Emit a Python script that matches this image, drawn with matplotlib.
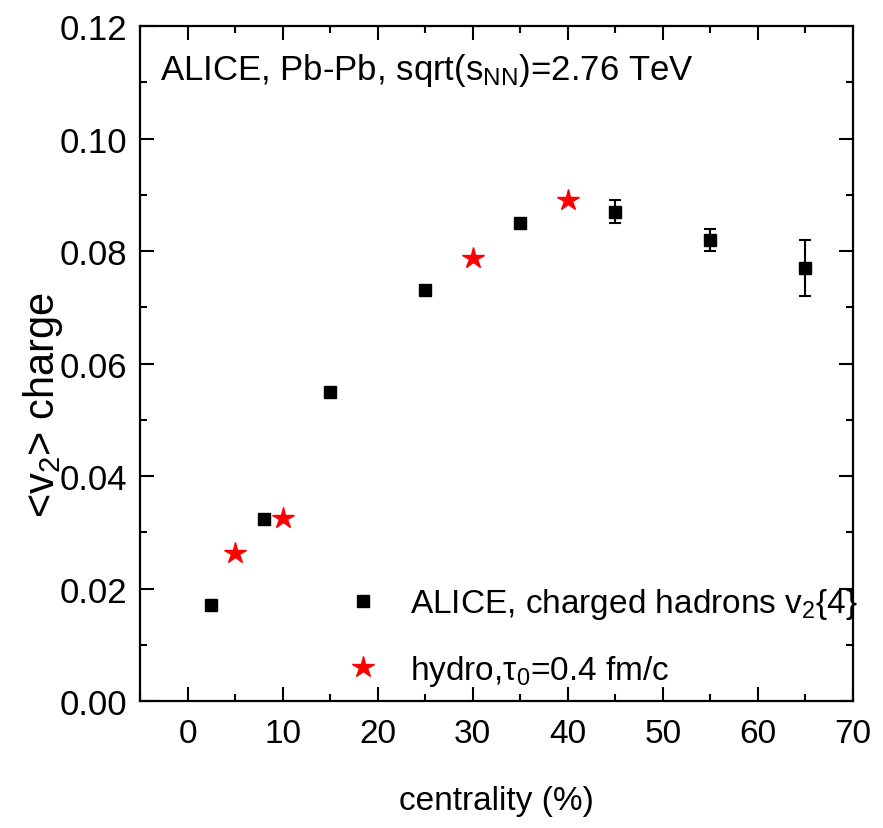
# v2 de hadrones cargados contra centralidad: ALICE e hidro
import numpy as np
import matplotlib.pyplot as plt
from matplotlib.lines import Line2D

plt.rcParams['font.family'] = ['Liberation Sans', 'DejaVu Sans']
plt.rcParams['mathtext.fontset'] = 'custom'
plt.rcParams['mathtext.rm'] = 'Liberation Sans'
plt.rcParams['mathtext.it'] = 'Liberation Sans:italic'

# datos ALICE v2{4}
Centralidad_alice = [2.5, 8.0, 15, 25, 35, 45, 55, 65]
V2_alice = [0.017, 0.0324, 0.055, 0.073, 0.085, 0.087, 0.082, 0.077]
Error_alice = [0.0004, 0.0004, 0.0004, 0.0004, 0.0005, 0.002, 0.002, 0.005]

# datos hidro
Centralidad_hidro = [5, 10, 30, 40]
V2_hidro = [0.0264, 0.0325, 0.0787, 0.0891]

Etiqueta_alice = r'ALICE, charged hadrons v$_2${4}'
Etiqueta_hidro = r'hydro,τ$_0$=0.4 fm/c'

fig = plt.figure(figsize=(8.83, 8.29), dpi=100)
ax = fig.add_axes([0.1586, 0.1532, 0.8074, 0.8142])

ax.errorbar(
    Centralidad_alice, V2_alice, yerr=Error_alice,
    fmt='s', color='black', ms=8.5, capsize=4.5, elinewidth=1.5, capthick=1.5
)
ax.plot(
    Centralidad_hidro, V2_hidro, '*', color='red', ms=16, mec='red'
)

ax.set_xlim(-5, 70)
ax.set_ylim(0, 0.12)
ax.set_xticks(np.arange(0, 71, 10))
ax.set_xticks(np.arange(-5, 71, 5), minor=True)
ax.set_yticks(np.arange(0, 0.121, 0.02))
ax.set_yticks(np.arange(0, 0.121, 0.01), minor=True)
ax.yaxis.set_major_formatter(plt.FormatStrFormatter('%.2f'))

ax.tick_params(which='both', direction='in', top=True, right=True, width=1.5)
ax.tick_params(which='major', length=10)
ax.tick_params(which='minor', length=5)
ax.tick_params(axis='x', labelsize=24, pad=12)
ax.tick_params(axis='y', labelsize=25, pad=9)
for s in ax.spines.values():
    s.set_linewidth(1.6)

ax.set_xlabel('centrality (%)', fontsize=24, va='top')
ax.xaxis.set_label_coords(0.5, -0.125)
ax.set_ylabel(r'<v$_2$> charge', fontsize=30)
ax.yaxis.set_label_coords(-0.105, 0.44)

ax.text(0.028, 0.936, r'ALICE, Pb-Pb, sqrt(s$_{\rm NN}$)=2.76 TeV',
        transform=ax.transAxes, fontsize=25, va='center', ha='left')

Manijas = [
    Line2D([], [], ls='none', marker='s', color='black', ms=8.5),
    Line2D([], [], ls='none', marker='*', color='red', ms=16),
]
ax.legend(Manijas, [Etiqueta_alice, Etiqueta_hidro],
          loc='upper left', bbox_to_anchor=(0.29, 0.17), frameon=False,
          fontsize=24, handletextpad=0.9, labelspacing=0.95, handlelength=1.0,
          borderpad=0, borderaxespad=0)

fig.savefig('out.png', dpi=100)
